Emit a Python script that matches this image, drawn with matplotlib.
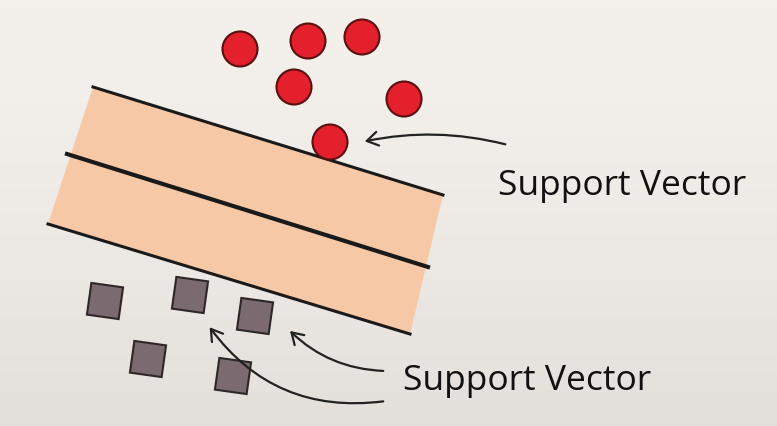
import numpy as np
import matplotlib.pyplot as plt
from matplotlib.patches import Polygon, Circle, Rectangle, FancyArrowPatch
from matplotlib.transforms import Affine2D

# class points (pixel coords of the reference)
red_x = [240, 308, 362, 294, 404, 330]
red_y = [50, 42, 38, 88, 100, 143]
sq_x = [105, 190, 255, 148, 233]
sq_y = [302, 296, 317, 360, 377]
labels = ["Support Vector", "Support Vector"]

fig = plt.figure(figsize=(7.77, 4.27), dpi=100)
ax = fig.add_axes([0, 0, 1, 1])
ax.set_xlim(0, 777)
ax.set_ylim(427, 0)
ax.axis('off')

# background gradient
grad = np.linspace(0, 1, 200).reshape(-1, 1)
c_top = np.array([0.957, 0.945, 0.925])
c_bot = np.array([0.890, 0.878, 0.860])
img = c_top + (c_bot - c_top) * grad[:, :, None] ** 1.5
ax.imshow(img, extent=[0, 777, 427, 0], aspect='auto', zorder=0)

# margin band
ax.add_patch(Polygon([(93, 88), (443, 196), (410, 335), (48, 225)],
                     closed=True, facecolor='#F6C8A6', edgecolor='none', zorder=1))
ax.plot([93, 443], [88, 196], color='#1a1a1a', lw=2.2, zorder=2)
ax.plot([67, 428], [155, 268], color='#1a1a1a', lw=3, zorder=2)
ax.plot([48, 410], [225, 335], color='#1a1a1a', lw=2.2, zorder=2)

for x, y in zip(red_x, red_y):
    ax.add_patch(Circle((x, y), 17.5, facecolor='#E3202B', edgecolor='#5a1010', lw=1.5, zorder=3))

for x, y in zip(sq_x, sq_y):
    r = Rectangle((x - 16, y - 16), 32, 32, facecolor='#7B6B70', edgecolor='#2e2628', lw=1.5, zorder=3)
    r.set_transform(Affine2D().rotate_deg_around(x, y, 8) + ax.transData)
    ax.add_patch(r)

akw = dict(arrowstyle='->,head_length=8,head_width=5', color='#222222', lw=1.6, zorder=4)
ax.add_patch(FancyArrowPatch((508, 146), (362, 143), connectionstyle='arc3,rad=0.12', **akw))
ax.add_patch(FancyArrowPatch((386, 372), (288, 330), connectionstyle='arc3,rad=-0.2', **akw))
ax.add_patch(FancyArrowPatch((386, 402), (208, 326), connectionstyle='arc3,rad=-0.3', **akw))

ax.text(498, 186, labels[0], fontsize=25.5, color='#111111', va='center', ha='left',
        family='Open Sans', weight='medium')
ax.text(403, 381, labels[1], fontsize=25.5, color='#111111', va='center', ha='left',
        family='Open Sans', weight='medium')

fig.savefig('out.png', dpi=100)
